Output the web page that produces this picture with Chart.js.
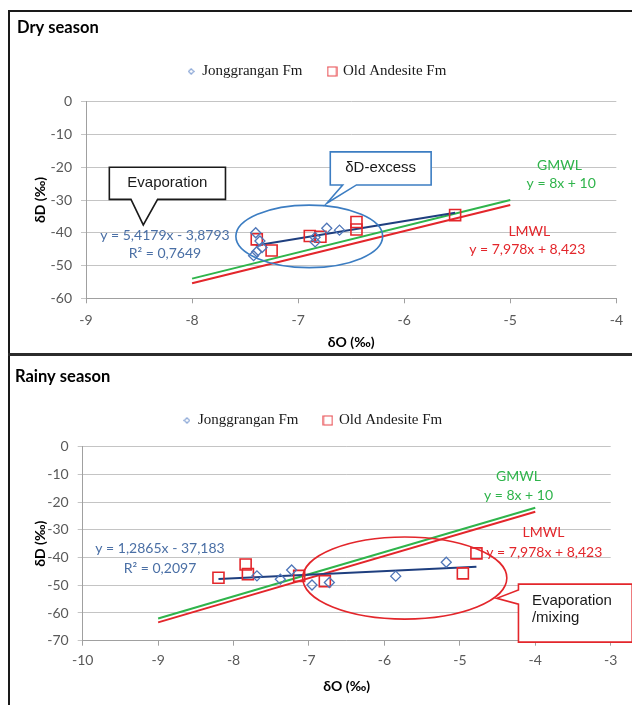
<!DOCTYPE html>
<html>
<head>
<meta charset="utf-8">
<script src="https://cdn.jsdelivr.net/npm/chart.js@4.4.1/dist/chart.umd.min.js"></script>
<style>
  html, body { margin: 0; background: #fff; }
  #page { position: relative; width: 632px; height: 705px; overflow: hidden; }
  canvas { position: absolute; left: 0; }
  #dry { top: 0; }
  #rainy { top: 354px; }
  #frame { position: absolute; left: 8px; top: 10px; width: 640px; height: 700px; border-left: 2px solid #1a1a1a; border-top: 2px solid #1a1a1a; pointer-events: none; }
  #split { position: absolute; left: 8px; top: 353px; width: 630px; height: 3px; background: #2b2b2b; }
</style>
</head>
<body>
<div id="page">
  <canvas id="dry" width="632" height="354"></canvas>
  <canvas id="rainy" width="632" height="351"></canvas>
  <div id="frame"></div>
  <div id="split"></div>
</div>
<script>
const FONT = 'Lato, "DejaVu Sans", sans-serif'
const BLUE = '#4f76b8', RED = '#e3262b', GREEN = '#2fb44b', NAVY = '#1f3f7f'
const seriesNames = ['Jonggrangan Fm', 'Old Andesite Fm']

//dry season, [dO, dD]
const dryJong = [[-7.40, -40.0], [-7.36, -42.5], [-7.34, -44.5], [-7.39, -45.8], [-7.42, -47.0],
                 [-6.84, -41.4], [-6.84, -42.8], [-6.73, -38.6], [-6.61, -39.2]]
const dryOld = [[-7.39, -42.0], [-7.25, -45.4], [-6.89, -41.0], [-6.79, -41.2], [-6.45, -36.7], [-6.45, -39.0], [-5.52, -34.6]]
const dryTrend = [[-7.40, -43.9], [-5.52, -33.9]]
const dryGmwl = [[-8, -54], [-5, -30]]
const dryLmwl = [[-8, -55.4], [-5, -31.5]]
const dryXRange = [-9, -4]
const dryYRange = [-60, 0]

//rainy season
const rainyJong = [[-7.69, -46.6], [-7.38, -47.8], [-7.23, -44.5], [-6.96, -49.9], [-6.73, -49.0], [-5.85, -46.7], [-5.18, -41.7]]
const rainyOld = [[-8.20, -47.3], [-7.84, -42.5], [-7.81, -46.0], [-7.13, -46.6], [-6.79, -48.5], [-4.96, -45.7], [-4.78, -38.5]]
const rainyTrend = [[-8.20, -47.7], [-4.78, -43.3]]
const rainyGmwl = [[-9, -62], [-4, -22]]
const rainyLmwl = [[-9, -63.4], [-4, -23.5]]
const rainyXRange = [-10, -3]
const rainyYRange = [-70, 0]

const toXY = arr => arr.map(p => ({ x: p[0], y: p[1] }))

//callouts, ellipses and equations, placed in data units
const dryNotes = {
    ellipses: [{ cx: -6.895, cy: -41.1, rx: 0.692, ry: 9.55, color: '#3c7dc2' }],
    callouts: [
        { box: [-8.78, -20.0, -7.685, -29.8], side: 'bottom', base: [-8.576, -8.325], tip: [-8.46, -37.6], color: '#1a1a1a',
          lines: [['Evaporation', -8.233, -24.9]] },
        { box: [-6.697, -15.3, -5.746, -25.4], side: 'bottom', base: [-6.58, -6.45], tip: [-6.73, -31.0], color: '#3c7dc2',
          lines: [['δD-excess', -6.222, -20.3]] }
    ],
    texts: [
        ['y = 5,4179x - 3,8793', -8.256, -40.7, '#4a6fa5'],
        ['R² = 0,7649', -8.256, -46.2, '#4a6fa5'],
        ['GMWL', -4.537, -19.6, GREEN],
        ['y = 8x + 10', -4.52, -25.1, GREEN],
        ['LMWL', -4.82, -39.5, RED],
        ['y = 7,978x + 8,423', -4.84, -45.0, RED]
    ]
}
const rainyNotes = {
    ellipses: [{ cx: -5.73, cy: -47.4, rx: 1.353, ry: 14.8, color: RED }],
    callouts: [
        { box: [-4.223, -49.6, -2.715, -70.5], side: 'left', base: [-51.7, -56.8], tip: [-4.51, -54.7], color: RED,
          align: 'left', lines: [['Evaporation', -4.045, -55.6], ['/mixing', -4.045, -61.9]] }
    ],
    texts: [
        ['y = 1,2865x - 37,183', -8.975, -36.9, '#4a6fa5'],
        ['R² = 0,2097', -8.975, -43.8, '#4a6fa5'],
        ['GMWL', -4.223, -10.8, GREEN],
        ['y = 8x + 10', -4.223, -17.7, GREEN],
        ['LMWL', -3.891, -31.0, RED],
        ['y = 7,978x + 8,423', -3.88, -38.3, RED]
    ]
}

//small legend markers (the legend symbols are smaller/lighter than the plotted ones)
function marker(shape, size, color) {
    const c = document.createElement('canvas')
    c.width = c.height = size
    const g = c.getContext('2d')
    g.strokeStyle = color
    g.lineWidth = 1.2
    g.beginPath()
    if (shape == 'diamond') {
        const m = size / 2
        g.moveTo(m, 0.8); g.lineTo(size - 0.8, m); g.lineTo(m, size - 0.8); g.lineTo(0.8, m); g.closePath()
    } else {
        g.rect(1, 1, size - 2, size - 2)
    }
    g.stroke()
    return c
}
const legendMarks = [marker('diamond', 7, '#8aa6d6'), marker('square', 11, '#e8474b')]

//draws the annotations on top of the datasets
function notesPlugin(notes) {
    return {
        id: 'notes',
        afterDatasetsDraw(chart) {
            const { ctx, scales: { x, y } } = chart
            const px = v => x.getPixelForValue(v), py = v => y.getPixelForValue(v)
            ctx.save()
            notes.ellipses.forEach(e => {
                ctx.beginPath()
                ctx.ellipse(px(e.cx), py(e.cy), Math.abs(px(e.cx + e.rx) - px(e.cx)), Math.abs(py(e.cy + e.ry) - py(e.cy)), 0, 0, Math.PI * 2)
                ctx.strokeStyle = e.color
                ctx.lineWidth = 1.6
                ctx.stroke()
            })
            notes.callouts.forEach(c => {
                const x1 = px(c.box[0]), y1 = py(c.box[1]), x2 = px(c.box[2]), y2 = py(c.box[3])
                const tx = px(c.tip[0]), ty = py(c.tip[1])
                ctx.beginPath()
                if (c.side == 'bottom') {
                    const a = px(c.base[0]), b = px(c.base[1])
                    ctx.moveTo(x1, y1); ctx.lineTo(x2, y1); ctx.lineTo(x2, y2); ctx.lineTo(b, y2)
                    ctx.lineTo(tx, ty); ctx.lineTo(a, y2); ctx.lineTo(x1, y2)
                } else {
                    const a = py(c.base[0]), b = py(c.base[1])
                    ctx.moveTo(x1, y1); ctx.lineTo(x2, y1); ctx.lineTo(x2, y2); ctx.lineTo(x1, y2)
                    ctx.lineTo(x1, b); ctx.lineTo(tx, ty); ctx.lineTo(x1, a)
                }
                ctx.closePath()
                ctx.fillStyle = '#fff'
                ctx.fill()
                ctx.strokeStyle = c.color
                ctx.lineWidth = 1.6
                ctx.stroke()
                ctx.fillStyle = '#1a1a1a'
                ctx.font = '15px "Liberation Sans", Arial, sans-serif'
                ctx.textBaseline = 'middle'
                ctx.textAlign = c.align || 'center'
                c.lines.forEach(l => ctx.fillText(l[0], px(l[1]), py(l[2])))
            })
            ctx.font = '14px ' + FONT
            ctx.textAlign = 'center'
            ctx.textBaseline = 'middle'
            notes.texts.forEach(t => {
                ctx.fillStyle = t[3]
                ctx.fillText(t[0], px(t[1]), py(t[2]))
            })
            ctx.restore()
        }
    }
}

//fixes the legend height so the plot area lands where it should
function legendHeight(h) {
    return {
        id: 'legendHeight',
        beforeLayout(chart) {
            const lg = chart.legend
            if (lg && !lg._fixed) {
                const fit = lg.fit
                lg.fit = function () { fit.call(this); this.height = h }
                lg._fixed = true
            }
        }
    }
}

function makeChart(id, s) {
    const pointSet = (label, data, style, r, color, w) => ({
        label: label, data: toXY(data), pointStyle: style, pointRadius: r, pointHoverRadius: r,
        borderColor: color, backgroundColor: 'rgba(255,255,255,0)', pointBorderWidth: w, borderWidth: w
    })
    const lineSet = (label, data, color) => ({
        label: label, data: toXY(data), showLine: true, pointRadius: 0, borderColor: color, borderWidth: 2
    })
    return new Chart(document.getElementById(id), {
        type: 'scatter',
        data: {
            datasets: [
                pointSet(seriesNames[0], s.jong, 'rectRot', 5, BLUE, 1.3),
                pointSet(seriesNames[1], s.old, 'rect', 7.8, RED, 1.6),
                lineSet('trend', s.trend, NAVY),
                lineSet('GMWL', s.gmwl, GREEN),
                lineSet('LMWL', s.lmwl, RED)
            ]
        },
        plugins: [notesPlugin(s.notes), legendHeight(s.legendH)],
        options: {
            responsive: false,
            animation: false,
            events: [],
            layout: { padding: s.pad },
            plugins: {
                tooltip: { enabled: false },
                title: {
                    display: true, text: s.title, align: 'start', color: '#000',
                    font: { family: FONT, size: 16.5, weight: 'bold' },
                    padding: { top: s.titleTop, bottom: 0 }
                },
                legend: {
                    labels: {
                        generateLabels: chart => Chart.defaults.plugins.legend.labels.generateLabels(chart)
                            .filter(item => item.datasetIndex < 2)
                            .map(item => Object.assign(item, { pointStyle: legendMarks[item.datasetIndex] })),
                        usePointStyle: true, boxWidth: 7, boxHeight: 11, padding: 26, color: '#1a1a1a',
                        font: { family: '"Liberation Serif", "Times New Roman", serif', size: 15 }
                    }
                }
            },
            scales: {
                x: {
                    type: 'linear', min: s.xRange[0], max: s.xRange[1],
                    ticks: { stepSize: 1, color: '#595959', padding: s.xTickPad, font: { family: FONT, size: 14 } },
                    grid: { drawOnChartArea: false, tickLength: 5, color: '#a0a0a0' },
                    border: { color: '#a0a0a0' },
                    title: { display: true, text: 'δO (‰)', color: '#000', padding: 0, font: { family: FONT, size: 14, weight: 'bold' } },
                    afterFit: sc => { sc.height = s.xH }
                },
                y: {
                    min: s.yRange[0], max: s.yRange[1],
                    ticks: { stepSize: 10, color: '#595959', padding: 9, font: { family: FONT, size: 14 } },
                    grid: { color: '#c4c4c4', tickLength: 5 },
                    border: { color: '#a0a0a0' },
                    title: { display: true, text: 'δD (‰)', color: '#000', padding: { top: s.yTitlePad, bottom: 0 }, font: { family: FONT, size: 14, weight: 'bold' } },
                    afterFit: sc => { sc.width = s.yW }
                }
            }
        }
    })
}

makeChart('dry', {
    title: 'Dry season', jong: dryJong, old: dryOld, trend: dryTrend, gmwl: dryGmwl, lmwl: dryLmwl,
    xRange: dryXRange, yRange: dryYRange, notes: dryNotes,
    pad: { left: 17, right: 15, top: 10, bottom: 3.2 }, titleTop: 8.1, legendH: 63.8,
    xH: 52.5, xTickPad: 9, yW: 69, yTitlePad: 14.6
})

makeChart('rainy', {
    title: 'Rainy season', jong: rainyJong, old: rainyOld, trend: rainyTrend, gmwl: rainyGmwl, lmwl: rainyLmwl,
    xRange: rainyXRange, yRange: rainyYRange, notes: rainyNotes,
    pad: { left: 15, right: 21.3, top: 6, bottom: 10.2 }, titleTop: 7.1, legendH: 59.8,
    xH: 54.1, xTickPad: 6, yW: 67.7, yTitlePad: 16.6
})
</script>
</body>
</html>
